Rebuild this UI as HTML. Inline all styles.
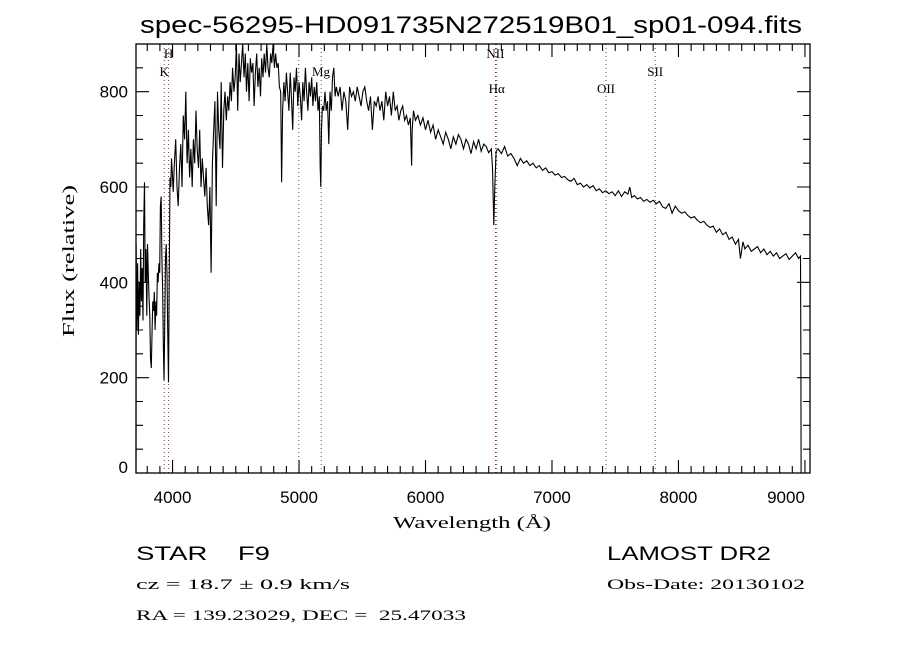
<!DOCTYPE html>
<html><head><meta charset="utf-8"><style>
body{margin:0;background:#fff;}
svg{display:block;}
text{font-family:"Liberation Sans",sans-serif;fill:#000;}
.serif{font-family:"Liberation Serif",serif;}
</style></head><body>
<svg id="chart" width="900" height="650" viewBox="0 0 900 650" xmlns="http://www.w3.org/2000/svg">
<rect width="900" height="650" fill="#fff"/>
<text x="140" y="33" font-size="24" textLength="662" lengthAdjust="spacingAndGlyphs">spec-56295-HD091735N272519B01_sp01-094.fits</text>
<g id="lines"></g>
<g id="ticks"></g>
<path id="spec" fill="none" stroke="#000" stroke-width="1.1"/>
<rect x="136" y="44" width="674" height="429" fill="none" stroke="#000" stroke-width="1.3"/>
<g id="labels"></g>
<text class="serif" x="393" y="528" font-size="17" textLength="158" lengthAdjust="spacingAndGlyphs">Wavelength (Å)</text>
<text class="serif" transform="translate(74,337) rotate(-90)" font-size="17" textLength="152" lengthAdjust="spacingAndGlyphs">Flux (relative)</text>
<text x="136" y="560" font-size="19" textLength="134" lengthAdjust="spacingAndGlyphs" xml:space="preserve">STAR    F9</text>
<text x="607" y="560" font-size="19" textLength="164" lengthAdjust="spacingAndGlyphs">LAMOST DR2</text>
<text class="serif" x="136" y="589" font-size="15" textLength="214" lengthAdjust="spacingAndGlyphs">cz = 18.7 ± 0.9 km/s</text>
<text class="serif" x="607" y="589" font-size="15" textLength="198" lengthAdjust="spacingAndGlyphs">Obs-Date: 20130102</text>
<text class="serif" x="136" y="620" font-size="15" textLength="330" lengthAdjust="spacingAndGlyphs" xml:space="preserve">RA = 139.23029, DEC =  25.47033</text>
</svg>
<script>
const waves=[3711,3712,3718,3724,3730,3736,3742,3748,3754,3760,3766,3772,3778,3784,3790,3796,3802,3808,3814,3820,3826,3832,3838,3844,3850,3856,3862,3868,3874,3880,3886,3892,3898,3904,3910,3916,3922,3928,3932,3938,3944,3950,3956,3962,3968,3974,3980,3986,3992,3998,
4005,4015,4025,4035,4045,4055,4065,4075,4085,4095,4105,4115,4125,4135,4145,4155,4165,4175,4185,4195,4205,4215,4225,4235,4245,4255,4265,4275,4285,4295,4305,4315,4325,4335,4345,4355,4365,4375,4385,4395,4405,4415,4425,4435,4445,4455,4465,4475,4485,4495,
4505,4515,4525,4535,4545,4555,4565,4575,4585,4595,4605,4615,4625,4635,4645,4655,4665,4675,4685,4695,4705,4715,4725,4735,4745,4755,4765,4775,4785,4795,4805,4815,4825,4835,4845,4855,4862,4870,4880,4890,4900,
4910,4920,4930,4940,4950,4960,4970,4980,4990,5000,5010,5020,5030,5040,5050,5060,5070,5080,5090,5100,5110,5120,5130,5140,5150,5160,5167,5172,5178,5185,5195,5205,5215,5225,5235,5245,5255,5265,5275,5285,5295,
5310,5325,5340,5355,5370,5385,5400,5415,5430,5445,5460,5475,5490,5505,5520,5535,5550,5565,5580,5595,5610,5625,5640,5655,5670,5685,5700,5715,5730,5745,5760,5775,5790,5805,5820,5835,5850,5865,5880,5890,5895,5905,
5920,5940,5960,5980,6000,6020,6040,6060,6080,6100,6120,6140,6160,6180,6200,6220,6240,6260,6280,6300,6320,6340,6360,6380,6400,6420,6440,6460,6480,6500,6520,6530,6540,6548,6558,
6575,6600,6625,6650,6675,6700,6725,6750,6775,6800,6825,6850,6875,6900,6925,6950,6975,7000,7025,7050,7075,7100,7125,7150,7175,7200,7225,7250,7275,7300,7325,7350,7375,7400,7425,7450,7475,7500,7525,7550,7575,7600,7615,7630,7650,7675,7700,7725,7750,7775,7800,7825,7850,7875,7900,7925,7950,7975,8000,8025,8050,8075,8100,8125,8150,8175,8200,8225,8250,8275,8300,8325,8350,8375,8400,8425,8450,8475,8490,8510,8525,8550,8575,8600,8625,8650,8675,8700,8725,8750,8775,8800,8825,8850,8875,8900,8925,8950,8965,8968,8970];
const flux=[0,480,300,440,290,400,330,470,360,430,320,520,610,400,470,330,480,420,370,330,240,220,300,360,340,380,300,360,330,420,400,440,420,560,580,450,380,260,195,300,450,480,420,300,190,430,620,600,660,630,
590,650,700,600,560,640,690,600,750,700,800,650,720,620,680,600,700,650,760,680,640,720,600,660,620,580,640,560,520,600,420,650,720,780,560,800,720,680,820,640,760,800,740,790,760,820,780,850,800,830,
900,760,880,820,860,900,830,880,800,860,780,870,840,860,770,840,880,810,850,790,870,830,880,840,900,850,830,880,860,900,850,880,850,860,810,800,610,760,820,780,840,
800,760,840,790,720,830,800,850,770,820,790,740,820,780,850,800,760,820,790,830,770,810,780,820,760,790,640,600,720,770,760,800,760,780,690,800,760,830,850,790,810,
790,810,760,800,780,720,810,790,800,780,810,790,770,800,810,780,760,790,720,780,770,790,760,780,740,800,770,790,750,800,760,770,740,760,770,740,750,730,745,645,720,760,
740,750,730,745,720,740,715,730,700,720,705,690,715,700,680,705,690,710,700,680,700,690,670,695,680,700,675,690,685,672,680,640,520,600,675,
680,670,685,665,670,660,645,660,650,655,645,650,640,645,635,640,630,632,625,628,620,622,615,612,618,605,608,600,605,598,603,592,596,588,592,586,590,582,592,580,590,585,600,578,582,575,578,570,574,568,572,565,570,558,555,565,545,560,550,545,548,540,535,538,530,525,528,520,515,518,505,512,500,505,490,495,480,490,450,485,470,478,465,470,475,462,470,458,465,455,462,450,455,460,448,455,462,450,455,230,0];
const xTicks=[4000,5000,6000,7000,8000,9000];
const yTicks=[0,200,400,600,800];
const lineWaves=[3934,3969,4998,5175,6553,6563,7427,7816];
const lineNames=["K","H","","Mg","NII","Hα","OII","SII"];
const lineLabelY=[76,58,0,76,58,93,93,76];

const X0=136,X1=810,Y0=473,Y1=44,WMIN=3711,WMAX=9040,FMIN=0,FMAX=900;
function xs(w){return X0+(w-WMIN)/(WMAX-WMIN)*(X1-X0);}
function ys(f){f=Math.min(FMAX,Math.max(FMIN,f));return Y0-(f-FMIN)/(FMAX-FMIN)*(Y0-Y1);}
const NS="http://www.w3.org/2000/svg";
function mk(tag,attrs,parent){const e=document.createElementNS(NS,tag);for(const k in attrs)e.setAttribute(k,attrs[k]);parent.appendChild(e);return e;}

let d="";
for(let i=0;i<waves.length;i++){d+=(i?"L":"M")+xs(waves[i]).toFixed(1)+","+ys(flux[i]).toFixed(1);}
document.getElementById("spec").setAttribute("d",d);

const tg=document.getElementById("ticks");
let td="";
for(let w=3800;w<=9000;w+=100){const x=xs(w);const L=(w%1000===0)?13:7;td+=`M${x},${Y0}v${-L}M${x},${Y1}v${L}`;}
for(let f=50;f<FMAX;f+=50){const y=ys(f);const L=(f%200===0)?13:7;td+=`M${X0},${y}h${L}M${X1},${y}h${-L}`;}
const tp=mk("path",{d:td,stroke:"#000","stroke-width":"1.1",fill:"none"},tg);



const lg=document.getElementById("labels");
xTicks.forEach(w=>{
  let x=xs(w); if(w===9000)x=786;
  const t=mk("text",{x:x,y:503,"font-size":"17","text-anchor":"middle"},lg);
  
  
  t.textContent=w;
});
yTicks.forEach(f=>{
  const t=mk("text",{x:128,y:ys(f)+6-(f===0?6:0),"font-size":"17","text-anchor":"end"},lg);
  
  
  t.textContent=f;
});

const lgr=document.getElementById("lines");
lineWaves.forEach((w,i)=>{
  const x=xs(w);
  const l=mk("line",{x1:x,x2:x,y1:Y1,y2:Y0,stroke:"#8b1a1a","stroke-width":"0.9","stroke-dasharray":"1,3"},lgr);
  
  
  if(lineNames[i]){
    const isMg=lineNames[i]==="Mg";
    const t=mk("text",{x:isMg?312:x,y:lineLabelY[i],"font-size":"13","text-anchor":isMg?"start":"middle",class:"serif"},lgr);
    
    
    t.textContent=lineNames[i];
  }
});
</script>
</body></html>
